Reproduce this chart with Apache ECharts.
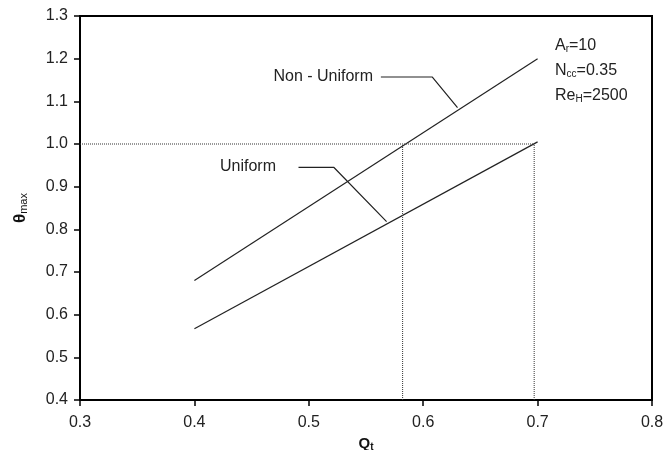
<!DOCTYPE html>
<html><head><meta charset="utf-8">
<script src="https://cdn.jsdelivr.net/npm/echarts@6/dist/echarts.min.js"></script>
<style>html,body{margin:0;padding:0;background:#fff}#c{width:667px;height:450px}</style>
</head><body><div id="c"></div>
<script>
// Data
const xTicks = [0.3, 0.4, 0.5, 0.6, 0.7, 0.8];
const yTicks = [0.4, 0.5, 0.6, 0.7, 0.8, 0.9, 1.0, 1.1, 1.2, 1.3];
const nonUniformQ = [0.4, 0.7];
const nonUniformTheta = [0.68, 1.2];
const uniformQ = [0.4, 0.7];
const uniformTheta = [0.567, 1.005];
const refH = [[0.3, 1.0], [0.697, 1.0]];
const refV1 = [[0.582, 0.4], [0.582, 1.0]];
const refV2 = [[0.697, 0.4], [0.697, 1.0]];
const leaderNonUniform = [[0.563, 1.157], [0.608, 1.157], [0.630, 1.085]];
const leaderUniform = [[0.491, 0.945], [0.522, 0.945], [0.568, 0.818]];

const font = 'Liberation Sans, Arial, sans-serif';
const chart = echarts.init(document.getElementById('c'));
const line = (d, type) => ({
  type: 'line', data: d, symbol: 'none', silent: true,
  lineStyle: { color: type === 'dotted' ? '#333' : '#222', width: type === 'dotted' ? 1 : 1.2, type: type || 'solid' }
});
const zip = (a, b) => a.map((v, i) => [v, b[i]]);
const sub = { s: { fontSize: 10, padding: [7, 0, 0, 0] } };
chart.setOption({
  animation: false,
  grid: { left: 80, right: 15, top: 16, bottom: 50, show: true, borderColor: '#000', borderWidth: 2,
    containLabel: false, outerBoundsMode: 'none' },
  xAxis: {
    type: 'value', min: xTicks[0], max: xTicks[xTicks.length - 1], interval: 0.1,
    axisLine: { lineStyle: { color: '#000', width: 2 } },
    axisTick: { length: 6, lineStyle: { color: '#000', width: 1.5 } },
    splitLine: { show: false },
    axisLabel: { color: '#222', fontSize: 16, fontFamily: font, margin: 15, formatter: v => v.toFixed(1) },
    name: 'Q{s|t}', nameLocation: 'middle', nameGap: 29,
    nameTextStyle: { fontWeight: 'bold', fontSize: 15, color: '#111', fontFamily: font,
      rich: { s: { fontSize: 10, fontWeight: 'bold', padding: [7, 0, 0, 0] } } }
  },
  yAxis: {
    type: 'value', min: yTicks[0], max: yTicks[yTicks.length - 1], interval: 0.1,
    axisLine: { lineStyle: { color: '#000', width: 2 } },
    axisTick: { length: 6, lineStyle: { color: '#000', width: 1.5 } },
    splitLine: { show: false },
    axisLabel: { color: '#222', fontSize: 16, fontFamily: font, margin: 12, formatter: v => v.toFixed(1) },
    name: 'θ{s|max}', nameLocation: 'middle', nameGap: 51, nameRotate: 90,
    nameTextStyle: { fontWeight: 'bold', fontSize: 17, color: '#111', fontFamily: font,
      rich: { s: { fontSize: 11, fontWeight: 'normal', padding: [7, 0, 0, 0] } } }
  },
  series: [
    line(zip(nonUniformQ, nonUniformTheta)),
    line(zip(uniformQ, uniformTheta)),
    line(refH, 'dotted'),
    line(refV1, 'dotted'),
    line(refV2, 'dotted'),
    line(leaderNonUniform),
    line(leaderUniform)
  ],
  graphic: [
    { type: 'text', x: 373, y: 77, style: { text: 'Non - Uniform', font: '16px ' + font, fill: '#222', align: 'right', verticalAlign: 'middle' } },
    { type: 'text', x: 220, y: 167, style: { text: 'Uniform', font: '16px ' + font, fill: '#222', align: 'left', verticalAlign: 'middle' } },
    { type: 'text', x: 555, y: 46, style: { text: 'A{s|r}=10', font: '16px ' + font, fill: '#222', verticalAlign: 'middle', rich: sub } },
    { type: 'text', x: 555, y: 71, style: { text: 'N{s|cc}=0.35', font: '16px ' + font, fill: '#222', verticalAlign: 'middle', rich: sub } },
    { type: 'text', x: 555, y: 96, style: { text: 'Re{s|H}=2500', font: '16px ' + font, fill: '#222', verticalAlign: 'middle', rich: sub } }
  ]
});
</script></body></html>
